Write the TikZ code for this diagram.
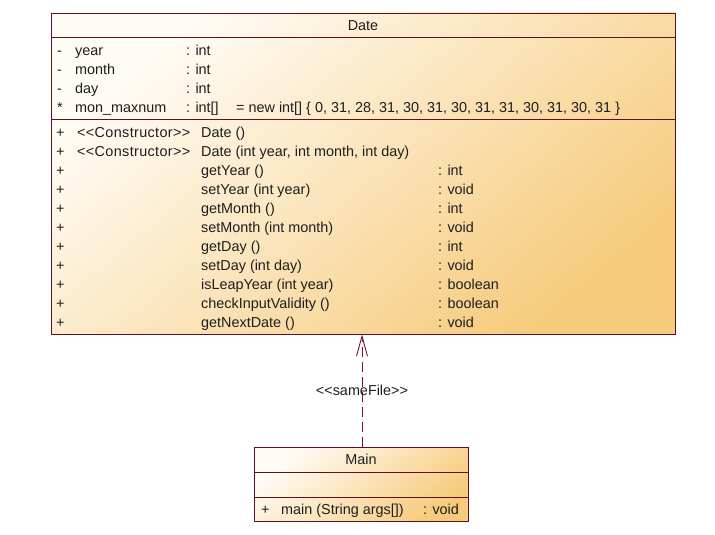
\documentclass[tikz,border=0pt]{standalone}
\usepackage{fontspec}
\setmainfont{Liberation Sans}
\usetikzlibrary{arrows.meta}
\definecolor{umlborder}{HTML}{5E1020}
\definecolor{umlline}{HTML}{7A1030}
\definecolor{umltop}{HTML}{FFFCF6}
\definecolor{umlbot}{HTML}{F6CB7C}
\definecolor{umltext}{HTML}{1E1E1E}
\tikzset{
  classbox/.style={draw=umlborder, line width=0.9pt, top color=umltop, bottom color=umlbot, shading angle=40, inner sep=0pt},
  sep/.style={draw=umlborder, line width=0.9pt},
  txt/.style={anchor=base west, inner sep=0pt, text=umltext, font=\fontsize{14.4}{16}\selectfont},
  ctxt/.style={anchor=base, inner sep=0pt, text=umltext, font=\fontsize{14.4}{16}\selectfont},
  dep/.style={draw=umlline, line width=0.9pt, dash pattern=on 10pt off 5pt},
}
\begin{document}
\begin{tikzpicture}[x=1pt,y=1pt]
\useasboundingbox (0,0) rectangle (715,-535);
% Date class
\node[classbox, minimum width=624pt, minimum height=321pt] (date) at (363,-173.5) {};
\draw[sep] (51,-37) coordinate (dh1) -- (675,-37) coordinate (dh2);
\draw[sep] (51,-119) coordinate (ds1) -- (675,-119) coordinate (ds2);
\node[ctxt] (datetitle) at (363,-30.5) {Date};
% attributes
\node[txt] (a1v) at (57,-55.5) {-};
\node[txt] (a1n) at (75,-55.5) {year};
\node[txt] (a1t) at (186,-55.5) {: int};
\node[txt] (a2v) at (57,-74.5) {-};
\node[txt] (a2n) at (75,-74.5) {month};
\node[txt] (a2t) at (186,-74.5) {: int};
\node[txt] (a3v) at (57,-93) {-};
\node[txt] (a3n) at (75,-93) {day};
\node[txt] (a3t) at (186,-93) {: int};
\node[txt] (a4v) at (57,-113) {*};
\node[txt] (a4n) at (75,-112) {mon\_maxnum};
\node[txt] (a4t) at (186,-112) {: int[]};
\node[txt] (a4d) at (236,-112) {= new int[] \{ 0, 31, 28, 31, 30, 31, 30, 31, 31, 30, 31, 30, 31 \}};
% methods
\foreach \i/\n/\t [count=\k] in {
  0/{Date ()}/{},
  1/{Date (int year, int month, int day)}/{},
  2/{getYear ()}/{: int},
  3/{setYear (int year)}/{: void},
  4/{getMonth ()}/{: int},
  5/{setMonth (int month)}/{: void},
  6/{getDay ()}/{: int},
  7/{setDay (int day)}/{: void},
  8/{isLeapYear (int year)}/{: boolean},
  9/{checkInputValidity ()}/{: boolean},
  10/{getNextDate ()}/{: void}} {
  \node[txt] (mv\k) at (56,-137-19*\i) {+};
  \node[txt] (mn\k) at (201,-137-19*\i) {\n};
  \node[txt] (mt\k) at (438,-137-19*\i) {\t};
}
\node[txt, font=\fontsize{14.4}{16}\selectfont\addfontfeature{LetterSpace=2.5}] (mc1) at (77,-137) {<{}<Constructor>{}>};
\node[txt, font=\fontsize{14.4}{16}\selectfont\addfontfeature{LetterSpace=2.5}] (mc2) at (77,-156) {<{}<Constructor>{}>};
% Main class
\node[classbox, minimum width=214pt, minimum height=74pt] (main) at (361,-484) {};
\draw[sep] (254,-472) coordinate (mh1) -- (468,-472) coordinate (mh2);
\draw[sep] (254,-497) coordinate (ms1) -- (468,-497) coordinate (ms2);
\node[ctxt] (maintitle) at (361,-464.5) {Main};
\node[txt] (mmv) at (261,-514) {+};
\node[txt] (mmn) at (281,-514) {main (String args[])};
\node[txt] (mmt) at (423,-514) {: void};
% dependency
\coordinate (mtop) at ([xshift=1pt]main.north);
\draw[dep, -{Straight Barb[length=20pt,width=11pt,line width=0.9pt]}] (mtop) -- (mtop |- date.south);
\node[ctxt] (lbl) at (362,-395) {<{}<sameFile>{}>};
\end{tikzpicture}
\end{document}
